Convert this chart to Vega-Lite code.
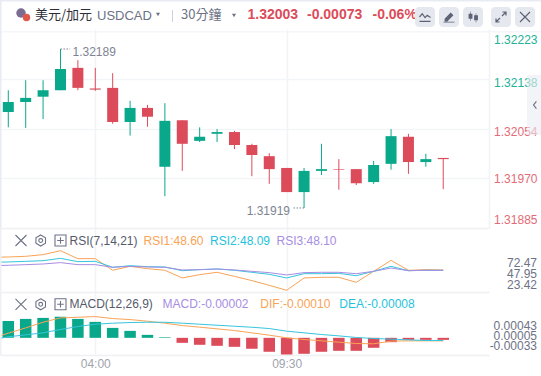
{"$schema":"https://vega.github.io/schema/vega-lite/v6.json","padding":0,"background":"#ffffff","bounds":"flush","spacing":0,"config":{"view":{"stroke":null},"font":"Liberation Sans"},
"datasets":{"one":[{}],
"extrema":[{"t":"2024-01-05T03:00:00Z","t2":"2024-01-05T03:16:30Z","p":1.32189,"label":"1.32189"},{"t":"2024-01-05T10:00:00Z","t2":"2024-01-05T09:40:30Z","p":1.31919,"label":"1.31919"}],
"k":[
{"t":"2024-01-05T01:00:00Z","rsi1":64.3,"rsi2":58.1,"rsi3":53.9,"dif":-0.000013,"dea":-0.00004},
{"t":"2024-01-05T01:30:00Z","open":1.32082,"high":1.32119,"low":1.32056,"close":1.32099,"rsi1":64.7,"rsi2":58.5,"rsi3":54.4,"hist":0.000336,"dif":0.000092,"dea":0.00002},
{"t":"2024-01-05T02:00:00Z","open":1.32099,"high":1.32136,"low":1.32055,"close":1.32106,"rsi1":65.5,"rsi2":59.3,"rsi3":55.2,"hist":0.000375,"dif":0.000197,"dea":0.000059},
{"t":"2024-01-05T02:30:00Z","open":1.32108,"high":1.32136,"low":1.3207,"close":1.32119,"rsi1":67.6,"rsi2":60.1,"rsi3":56.0,"hist":0.000395,"dif":0.000309,"dea":0.000099},
{"t":"2024-01-05T03:00:00Z","open":1.32119,"high":1.32189,"low":1.32119,"close":1.32155,"rsi1":72.47,"rsi2":63.0,"rsi3":57.7,"hist":0.00042,"dif":0.000395,"dea":0.000165},
{"t":"2024-01-05T03:30:00Z","open":1.32157,"high":1.3217,"low":1.32119,"close":1.32123,"rsi1":62.6,"rsi2":58.9,"rsi3":55.2,"hist":0.000375,"dif":0.000408,"dea":0.000224},
{"t":"2024-01-05T04:00:00Z","open":1.32122,"high":1.32157,"low":1.32118,"close":1.3212,"rsi1":62.6,"rsi2":59.3,"rsi3":55.2,"hist":0.000316,"dif":0.000421,"dea":0.00027},
{"t":"2024-01-05T04:30:00Z","open":1.32123,"high":1.32148,"low":1.32062,"close":1.32065,"rsi1":48.2,"rsi2":51.9,"rsi3":51.9,"hist":0.000197,"dif":0.000382,"dea":0.00029},
{"t":"2024-01-05T05:00:00Z","open":1.32065,"high":1.32101,"low":1.32042,"close":1.32089,"rsi1":53.1,"rsi2":53.9,"rsi3":53.1,"hist":0.000138,"dif":0.000362,"dea":0.000303},
{"t":"2024-01-05T05:30:00Z","open":1.32089,"high":1.32094,"low":1.32057,"close":1.32074,"rsi1":50.2,"rsi2":52.7,"rsi3":52.3,"hist":0.000059,"dif":0.000329,"dea":0.000309},
{"t":"2024-01-05T06:00:00Z","open":1.31989,"high":1.32097,"low":1.31939,"close":1.32067,"rsi1":48.2,"rsi2":52.3,"rsi3":51.9,"hist":0.000012,"dif":0.00029,"dea":0.000309},
{"t":"2024-01-05T06:30:00Z","open":1.32068,"high":1.32068,"low":1.31982,"close":1.32028,"rsi1":38.7,"rsi2":47.7,"rsi3":48.6,"hist":-0.000099,"dif":0.000243,"dea":0.00029},
{"t":"2024-01-05T07:00:00Z","open":1.32033,"high":1.32056,"low":1.32031,"close":1.3204,"rsi1":42.8,"rsi2":49.0,"rsi3":49.0,"hist":-0.000138,"dif":0.000211,"dea":0.00027},
{"t":"2024-01-05T07:30:00Z","open":1.32045,"high":1.32053,"low":1.32031,"close":1.32048,"rsi1":45.7,"rsi2":49.8,"rsi3":49.8,"hist":-0.000158,"dif":0.000178,"dea":0.00025},
{"t":"2024-01-05T08:00:00Z","open":1.32048,"high":1.3205,"low":1.32019,"close":1.32026,"rsi1":40.7,"rsi2":48.2,"rsi3":48.6,"hist":-0.000178,"dif":0.000145,"dea":0.00023},
{"t":"2024-01-05T08:30:00Z","open":1.32026,"high":1.32028,"low":1.31973,"close":1.32009,"rsi1":35.4,"rsi2":45.7,"rsi3":46.9,"hist":-0.000217,"dif":0.000099,"dea":0.00021},
{"t":"2024-01-05T09:00:00Z","open":1.32007,"high":1.32012,"low":1.3196,"close":1.31985,"rsi1":29.6,"rsi2":43.2,"rsi3":45.3,"hist":-0.000276,"dif":0.000053,"dea":0.000184},
{"t":"2024-01-05T09:30:00Z","open":1.31987,"high":1.31987,"low":1.31946,"close":1.31946,"rsi1":23.42,"rsi2":38.7,"rsi3":42.4,"hist":-0.00033,"dif":0.0,"dea":0.000132},
{"t":"2024-01-05T10:00:00Z","open":1.31946,"high":1.31987,"low":1.31919,"close":1.31982,"rsi1":38.7,"rsi2":44.0,"rsi3":45.3,"hist":-0.000316,"dif":-0.000033,"dea":0.000099},
{"t":"2024-01-05T10:30:00Z","open":1.31982,"high":1.32028,"low":1.31975,"close":1.31985,"rsi1":39.5,"rsi2":44.0,"rsi3":45.7,"hist":-0.000276,"dif":-0.000059,"dea":0.000066},
{"t":"2024-01-05T11:00:00Z","open":1.31985,"high":1.32002,"low":1.3195,"close":1.31984,"rsi1":39.5,"rsi2":44.4,"rsi3":45.7,"hist":-0.000257,"dif":-0.000086,"dea":0.000039},
{"t":"2024-01-05T11:30:00Z","open":1.31985,"high":1.31985,"low":1.31958,"close":1.31961,"rsi1":33.3,"rsi2":41.5,"rsi3":44.0,"hist":-0.000257,"dif":-0.000112,"dea":0.000007},
{"t":"2024-01-05T12:00:00Z","open":1.31963,"high":1.31999,"low":1.3196,"close":1.31992,"rsi1":46.9,"rsi2":46.9,"rsi3":46.9,"hist":-0.000197,"dif":-0.000118,"dea":-0.000013},
{"t":"2024-01-05T12:30:00Z","open":1.31994,"high":1.32053,"low":1.31984,"close":1.32041,"rsi1":60.5,"rsi2":53.1,"rsi3":51.0,"hist":-0.000086,"dif":-0.000066,"dea":-0.000026},
{"t":"2024-01-05T13:00:00Z","open":1.3204,"high":1.32045,"low":1.31977,"close":1.31997,"rsi1":48.2,"rsi2":47.7,"rsi3":47.7,"hist":-0.00004,"dif":-0.00006,"dea":-0.00004},
{"t":"2024-01-05T13:30:00Z","open":1.31997,"high":1.32011,"low":1.31989,"close":1.32002,"rsi1":49.0,"rsi2":48.2,"rsi3":48.2,"hist":-0.00004,"dif":-0.00006,"dea":-0.000053},
{"t":"2024-01-05T14:00:00Z","open":1.32004,"high":1.32004,"low":1.31951,"close":1.32002,"rsi1":48.6,"rsi2":48.09,"rsi3":48.1,"hist":-0.00004,"dif":-0.00006,"dea":-0.000053}
]},
"vconcat":[
{"width":541,"height":29,"data":{"name":"one"},"layer":[
{"mark":{"type":"rect","x":0,"x2":541,"y":0,"y2":1.5,"color":"#e8ebf3"}},
{"mark":{"type":"rect","x":0,"x2":541,"y":31,"y2":32.5,"color":"#f5f6f9"}},
{"mark":{"type":"rect","x":0,"x2":1.5,"y":0,"y2":29,"color":"#e8ebf3"}},
{"mark":{"type":"point","x":21,"y":13,"size":90,"filled":true,"color":"#7b6c92","opacity":1}},
{"mark":{"type":"point","x":26.5,"y":17.5,"size":55,"filled":true,"color":"#e2574c","opacity":1}},
{"mark":{"type":"text","text":"美元/加元","x":35,"y":15,"align":"left","baseline":"middle","font":"Noto Sans CJK SC","fontSize":13,"color":"#2b2e38"}},
{"mark":{"type":"text","text":"USDCAD","x":97,"y":16,"align":"left","baseline":"middle","fontSize":13,"color":"#6d7285"}},
{"mark":{"type":"point","x":158,"y":14.5,"size":16,"shape":"triangle-down","filled":true,"color":"#6d7285","opacity":1}},
{"mark":{"type":"rect","x":172,"x2":173,"y":10,"y2":22,"color":"#ccd0da"}},
{"mark":{"type":"text","text":"30分鐘","x":181,"y":15,"align":"left","baseline":"middle","font":"Noto Sans CJK TC","fontSize":13,"color":"#6d7285"}},
{"mark":{"type":"point","x":234,"y":15.5,"size":16,"shape":"triangle-down","filled":true,"color":"#6d7285","opacity":1}},
{"mark":{"type":"text","text":"1.32003","x":247.5,"y":15,"align":"left","baseline":"middle","fontSize":14,"fontWeight":"bold","color":"#dc4b5a"}},
{"mark":{"type":"text","text":"-0.00073","x":307,"y":15,"align":"left","baseline":"middle","fontSize":14,"fontWeight":"bold","color":"#dc4b5a"}},
{"mark":{"type":"text","text":"-0.06%","x":372.5,"y":15,"align":"left","baseline":"middle","fontSize":14,"fontWeight":"bold","color":"#dc4b5a"}},
{"mark":{"type":"rect","x":415,"x2":435,"y":7,"y2":27,"color":"#e6e8ef","cornerRadius":4}},
{"mark":{"type":"rect","x":439,"x2":459,"y":7,"y2":27,"color":"#e6e8ef","cornerRadius":4}},
{"mark":{"type":"rect","x":463,"x2":483,"y":7,"y2":27,"color":"#e6e8ef","cornerRadius":4}},
{"mark":{"type":"rect","x":491,"x2":511,"y":7,"y2":27,"color":"#e6e8ef","cornerRadius":4}},
{"mark":{"type":"rect","x":515,"x2":535,"y":7,"y2":27,"color":"#e6e8ef","cornerRadius":4}},
{"mark":{"type":"point","x":425,"y":17,"size":121,"shape":"M-1,0L-0.5,-0.6L0,0.1L0.4,-0.3L1,0.1M-1,0.8L1,0.8","color":"#5d6275","strokeWidth":1.2,"opacity":1}},
{"mark":{"type":"point","x":449,"y":17,"size":121,"shape":"M-0.8,0.3L0.3,-0.8L0.8,-0.3L-0.3,0.8L-0.8,0.8ZM-1,1L1,1L1,0.85L-1,0.85Z","filled":true,"color":"#5d6275","opacity":1}},
{"mark":{"type":"point","x":473,"y":17,"size":121,"shape":"M-0.8,-0.6H-0.1V0.3H-0.8ZM0.2,-0.3H0.9V0.6H0.2ZM-0.5,-1H-0.4V0.7H-0.5ZM0.5,-0.7H0.6V1H0.5Z","filled":true,"color":"#5d6275","opacity":1}},
{"mark":{"type":"point","x":501,"y":17,"size":100,"shape":"M0.2,-0.2L1,-1M0.3,-1H1V-0.3M-0.2,0.2L-1,1M-0.3,1H-1V0.3","color":"#5d6275","strokeWidth":1.2,"opacity":1}},
{"mark":{"type":"point","x":525,"y":17,"size":100,"shape":"M-1,-1L1,1M-1,1L1,-1","color":"#5d6275","strokeWidth":1.2,"opacity":1}}
]},
{"width":489,"height":199,"layer":[
{"data":{"name":"k"},"transform":[{"filter":"isValid(datum.open)"}],
"encoding":{
"x":{"field":"t","type":"temporal","scale":{"type":"utc","padding":0,"domain":["2024-01-05T01:15:42Z","2024-01-05T15:18:54Z"]},
"axis":{"title":null,"values":[{"year":2024,"month":1,"date":5,"hours":4,"utc":true},{"year":2024,"month":1,"date":5,"hours":9,"minutes":30,"utc":true}],"labels":false,"ticks":false,"domain":true,"domainColor":"#eef0f4","domainWidth":1.5,"grid":true,"gridColor":"#f1f3f7","gridWidth":1.5}},
"color":{"condition":{"test":"datum.close>=datum.open","value":"#0aa88b"},"value":"#dc4b5a"}},
"layer":[
{"mark":{"type":"rule","strokeWidth":1},"encoding":{"y":{"field":"low","type":"quantitative","scale":{"domain":[1.31885,1.32223],"nice":false,"zero":false},
"axis":{"title":null,"orient":"right","values":[1.32223,1.32138,1.32054,1.3197,1.31885],"format":".5f","ticks":false,"domain":true,"domainColor":"#f1f3f7","domainWidth":1.5,"grid":true,"gridColor":{"condition":{"test":"datum.value>1.3222||datum.value<1.3189","value":"transparent"},"value":"#f4f5f8"},"gridWidth":1.5,"labelFont":"Liberation Sans","labelFontSize":12,"labelAlign":"right","labelPadding":48,"labelFlush":false,"labelOverlap":{"expr":"false"},"labelBound":false,"labelColor":{"condition":{"test":"datum.value>1.321","value":"#22b196"},"value":"#e36a76"},"labelOffset":{"condition":[{"test":"datum.value>1.3222","value":10},{"test":"datum.value<1.3189","value":-9},{"test":"datum.value<1.3198","value":0.5}],"value":3}}},"y2":{"field":"high"}}},
{"mark":{"type":"bar","width":11},"encoding":{"y":{"field":"open","type":"quantitative"},"y2":{"field":"close"}}}
]},
{"data":{"name":"extrema"},"encoding":{"x":{"field":"t","type":"temporal"},"y":{"field":"p","type":"quantitative"}},"layer":[
{"mark":{"type":"rule","color":"#7e8392","strokeWidth":1,"strokeDash":[1.5,1.5]},"encoding":{"x2":{"field":"t2"}}},
{"transform":[{"filter":"datum.p>1.32"}],"mark":{"type":"text","align":"left","baseline":"middle","dx":12,"dy":3,"fontSize":12,"color":"#7e8392"},"encoding":{"text":{"field":"label"}}},
{"transform":[{"filter":"datum.p<1.32"}],"mark":{"type":"text","align":"right","baseline":"middle","dx":-14,"dy":3.5,"fontSize":12,"color":"#7e8392"},"encoding":{"text":{"field":"label"}}}
]},
{"data":{"name":"one"},"mark":{"type":"rect","x":527,"x2":541,"y":46,"y2":106,"color":"#ebecf1","opacity":0.6}},
{"data":{"name":"one"},"mark":{"type":"point","x":535,"y":76,"size":50,"shape":"M0.4,-1L-0.4,0L0.4,1","color":"#6d7285","strokeWidth":1.2,"opacity":1}},
{"data":{"name":"one"},"mark":{"type":"rect","x":0,"x2":1.5,"y":0,"y2":199,"color":"#e8ebf3"}}
]},
{"width":489,"height":64,"layer":[
{"data":{"name":"k"},"encoding":{
"x":{"field":"t","type":"temporal","scale":{"type":"utc","padding":0,"domain":["2024-01-05T01:15:42Z","2024-01-05T15:18:54Z"]},
"axis":{"title":null,"values":[{"year":2024,"month":1,"date":5,"hours":4,"utc":true},{"year":2024,"month":1,"date":5,"hours":9,"minutes":30,"utc":true}],"labels":false,"ticks":false,"domain":true,"domainColor":"#eef0f4","domainWidth":1.5,"grid":true,"gridColor":"#f1f3f7","gridWidth":1.5}}},
"layer":[
{"mark":{"type":"line","clip":true,"color":"#f9a356","strokeWidth":1},"encoding":{"y":{"field":"rsi1","type":"quantitative","scale":{"domain":[21.3,100.6],"nice":false,"zero":false},"axis":null}}},
{"mark":{"type":"line","clip":true,"color":"#35c5dd","strokeWidth":1},"encoding":{"y":{"field":"rsi2","type":"quantitative"}}},
{"mark":{"type":"line","clip":true,"color":"#a78de3","strokeWidth":1},"encoding":{"y":{"field":"rsi3","type":"quantitative"}}}
]},
{"data":{"name":"one"},"layer":[
{"mark":{"type":"text","text":"72.47","x":537,"dy":12.3,"align":"right","baseline":"middle","fontSize":12,"color":"#6d7285"},"encoding":{"y":{"datum":72.47,"type":"quantitative"}}},
{"mark":{"type":"text","text":"47.95","x":537,"dy":3.2,"align":"right","baseline":"middle","fontSize":12,"color":"#6d7285"},"encoding":{"y":{"datum":47.95,"type":"quantitative"}}},
{"mark":{"type":"text","text":"23.42","x":537,"dy":-5.6,"align":"right","baseline":"middle","fontSize":12,"color":"#6d7285"},"encoding":{"y":{"datum":23.42,"type":"quantitative"}}},
{"mark":{"type":"point","x":21,"y":12.5,"size":121,"shape":"M-1,-1L1,1M-1,1L1,-1","color":"#6d7285","strokeWidth":1.1,"opacity":1}},
{"mark":{"type":"point","x":40.7,"y":12.5,"size":121,"shape":"M0,-1L0.87,-0.5V0.5L0,1L-0.87,0.5V-0.5ZM0.35,0A0.35,0.35 0 1 1 -0.35,0A0.35,0.35 0 1 1 0.35,0Z","color":"#6d7285","strokeWidth":1.1,"opacity":1}},
{"mark":{"type":"point","x":60.5,"y":12.5,"size":121,"shape":"M-1,-1H1V1H-1ZM0,-0.6V0.6M-0.6,0H0.6","color":"#6d7285","strokeWidth":1.1,"opacity":1}},
{"mark":{"type":"text","text":"RSI(7,14,21)","x":69.5,"y":12.7,"align":"left","baseline":"middle","fontSize":12,"color":"#555a6b"}},
{"mark":{"type":"text","text":"RSI1:48.60","x":143.5,"y":12.7,"align":"left","baseline":"middle","fontSize":12,"color":"#f9a356"}},
{"mark":{"type":"text","text":"RSI2:48.09","x":210,"y":12.7,"align":"left","baseline":"middle","fontSize":12,"color":"#25c2dc"}},
{"mark":{"type":"text","text":"RSI3:48.10","x":276.5,"y":12.7,"align":"left","baseline":"middle","fontSize":12,"color":"#a78de3"}},
{"mark":{"type":"rect","x":0,"x2":1.5,"y":0,"y2":64,"color":"#eef0f6"}}
]}
]},
{"width":489,"height":63,"layer":[
{"data":{"name":"k"},"encoding":{
"x":{"field":"t","type":"temporal","scale":{"type":"utc","padding":0,"domain":["2024-01-05T01:15:42Z","2024-01-05T15:18:54Z"]},
"axis":{"title":null,"values":[{"year":2024,"month":1,"date":5,"hours":4,"utc":true},{"year":2024,"month":1,"date":5,"hours":9,"minutes":30,"utc":true}],"labelExpr":"utcFormat(datum.value,'%H:%M')","ticks":false,"domain":true,"domainColor":"#eef0f4","domainWidth":1.5,"grid":true,"gridColor":"#f1f3f7","gridWidth":1.5,"labelFont":"Liberation Sans","labelFontSize":12,"labelColor":"#9fa3ae","labelPadding":3,"labelFlush":false,"labelOverlap":{"expr":"false"}}}},
"layer":[
{"transform":[{"filter":"isValid(datum.hist)"}],"mark":{"type":"bar","width":11.5},"encoding":{"y":{"field":"hist","type":"quantitative","scale":{"domain":[-0.00034,0.000908],"nice":false,"zero":false},"axis":null},"y2":{"datum":0},"color":{"condition":{"test":"datum.hist>=0","value":"#0aa88b"},"value":"#dc4b5a"}}},
{"mark":{"type":"line","clip":true,"color":"#f9a356","strokeWidth":1},"encoding":{"y":{"field":"dif","type":"quantitative"}}},
{"mark":{"type":"line","clip":true,"color":"#35c5dd","strokeWidth":1},"encoding":{"y":{"field":"dea","type":"quantitative"}}}
]},
{"data":{"name":"one"},"layer":[
{"mark":{"type":"text","text":"0.00043","x":537,"dy":10.1,"align":"right","baseline":"middle","fontSize":12,"color":"#6d7285"},"encoding":{"y":{"datum":0.00043,"type":"quantitative"}}},
{"mark":{"type":"text","text":"0.00005","x":537,"dy":0.8,"align":"right","baseline":"middle","fontSize":12,"color":"#6d7285"},"encoding":{"y":{"datum":0.00005,"type":"quantitative"}}},
{"mark":{"type":"text","text":"-0.00033","x":537,"dy":-8.4,"align":"right","baseline":"middle","fontSize":12,"color":"#6d7285"},"encoding":{"y":{"datum":-0.00033,"type":"quantitative"}}},
{"mark":{"type":"point","x":21,"y":12.3,"size":121,"shape":"M-1,-1L1,1M-1,1L1,-1","color":"#6d7285","strokeWidth":1.1,"opacity":1}},
{"mark":{"type":"point","x":40.7,"y":12.3,"size":121,"shape":"M0,-1L0.87,-0.5V0.5L0,1L-0.87,0.5V-0.5ZM0.35,0A0.35,0.35 0 1 1 -0.35,0A0.35,0.35 0 1 1 0.35,0Z","color":"#6d7285","strokeWidth":1.1,"opacity":1}},
{"mark":{"type":"point","x":60.5,"y":12.3,"size":121,"shape":"M-1,-1H1V1H-1ZM0,-0.6V0.6M-0.6,0H0.6","color":"#6d7285","strokeWidth":1.1,"opacity":1}},
{"mark":{"type":"text","text":"MACD(12,26,9)","x":69.5,"y":12.3,"align":"left","baseline":"middle","fontSize":12,"color":"#555a6b"}},
{"mark":{"type":"text","text":"MACD:-0.00002","x":162.5,"y":12.3,"align":"left","baseline":"middle","fontSize":12,"color":"#a78de3"}},
{"mark":{"type":"text","text":"DIF:-0.00010","x":260.3,"y":12.3,"align":"left","baseline":"middle","fontSize":12,"color":"#f9a356"}},
{"mark":{"type":"text","text":"DEA:-0.00008","x":339.3,"y":12.3,"align":"left","baseline":"middle","fontSize":12,"color":"#25c2dc"}},
{"mark":{"type":"rect","x":0,"x2":1.5,"y":0,"y2":63,"color":"#eef0f6"}}
]}
]}
]}
